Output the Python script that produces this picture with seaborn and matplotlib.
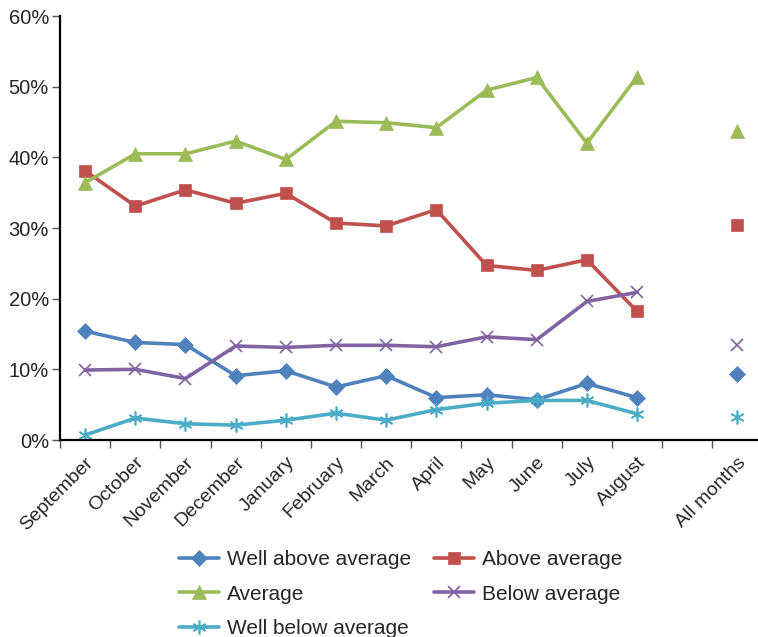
import matplotlib
matplotlib.use("Agg")
import matplotlib.pyplot as plt
import seaborn as sns
import numpy as np
import pandas as pd
from matplotlib.ticker import FixedLocator, FuncFormatter

months = ["September", "October", "November", "December", "January", "February",
          "March", "April", "May", "June", "July", "August"]
all_label = "All months"

well_above = [15.4, 13.8, 13.5, 9.1, 9.8, 7.5, 9.1, 6.0, 6.4, 5.7, 8.0, 6.0]
above = [38.1, 33.1, 35.4, 33.5, 34.9, 30.7, 30.3, 32.6, 24.7, 24.0, 25.5, 18.2]
average = [36.4, 40.5, 40.5, 42.3, 39.7, 45.1, 44.9, 44.2, 49.5, 51.3, 42.0, 51.4]
below = [9.9, 10.0, 8.7, 13.3, 13.1, 13.4, 13.4, 13.2, 14.6, 14.2, 19.6, 20.9]
well_below = [0.7, 3.1, 2.3, 2.1, 2.8, 3.8, 2.8, 4.3, 5.2, 5.6, 5.6, 3.7]
all_months = {"Well above average": 9.3, "Above average": 30.4, "Average": 43.7,
              "Below average": 13.4, "Well below average": 3.3}

series = {
    "Well above average": well_above,
    "Above average": above,
    "Average": average,
    "Below average": below,
    "Well below average": well_below,
}
colors = {"Well above average": "#4F81BD", "Above average": "#C0504D",
          "Average": "#9BBB59", "Below average": "#8064A2",
          "Well below average": "#4BACC6"}
markers = {"Well above average": "D", "Above average": "s", "Average": "^",
           "Below average": "x", "Well below average": (6, 2, 0)}
msizes = {"Well above average": 8, "Above average": 9, "Average": 9.5,
          "Below average": 9, "Well below average": 10}

sns.set_theme(style="white")
plt.rcParams['font.family'] = ['Liberation Sans', 'DejaVu Sans']

fig = plt.figure(figsize=(7.58, 6.37), dpi=100)
ax = fig.add_axes([60/758, 1-440/637, 1-60/758 + 0.006, (440-16)/637])

xpos = np.arange(len(months))
all_x = len(months) + 1

for name, vals in series.items():
    df = pd.DataFrame({"x": xpos, "y": vals})
    mew = 1.2 if name in ("Below average", "Well below average") else 0.5
    sns.lineplot(data=df, x="x", y="y", ax=ax, color=colors[name], linewidth=2.6,
                 marker=markers[name], markersize=msizes[name],
                 markeredgecolor=colors[name], markeredgewidth=mew,
                 label=name)
    ax.plot([all_x], [all_months[name]], linestyle="none", marker=markers[name],
            markersize=msizes[name], color=colors[name], markeredgecolor=colors[name],
            markeredgewidth=mew)

ax.set_xlim(-0.5, len(months) + 1.5)
ax.set_ylim(0, 60)
ax.set_xlabel("")
ax.set_ylabel("")

ax.xaxis.set_major_locator(FixedLocator(np.arange(-0.5, len(months) + 2, 1.0)))
ax.xaxis.set_major_formatter(FuncFormatter(lambda v, p: ""))
ax.xaxis.set_minor_locator(FixedLocator(list(xpos) + [all_x]))
ax.set_xticklabels(months + [all_label], minor=True, rotation=45, ha="right",
                   rotation_mode="anchor", fontsize=14)
ax.tick_params(axis="x", which="major", direction="out", length=6, width=1, color="#555555", bottom=True)
ax.tick_params(axis="x", which="minor", length=0, pad=10)

ax.set_yticks(np.arange(0, 61, 10))
ax.yaxis.set_major_formatter(FuncFormatter(lambda v, p: f"{int(v)}%"))
ax.tick_params(axis="y", direction="out", length=6, width=1, color="#555555", labelsize=14.5, left=True, pad=2)

for s in ["top", "right"]:
    ax.spines[s].set_visible(False)
for s in ["left", "bottom"]:
    ax.spines[s].set_color("black")
    ax.spines[s].set_linewidth(1.6)

ax.grid(False)
h, l = ax.get_legend_handles_labels()
hd = dict(zip(l, h))
order = ["Well above average", "Average", "Well below average", "Above average", "Below average"]
ax.get_legend().remove()
fig.legend([hd[o] for o in order], order, ncol=2, loc="center", bbox_to_anchor=(401/758, 1-594/637),
           frameon=False, fontsize=15, handlelength=1.9, columnspacing=1.1, labelspacing=0.75,
           handletextpad=0.4, borderpad=0)

fig.savefig("out.png", dpi=100)
